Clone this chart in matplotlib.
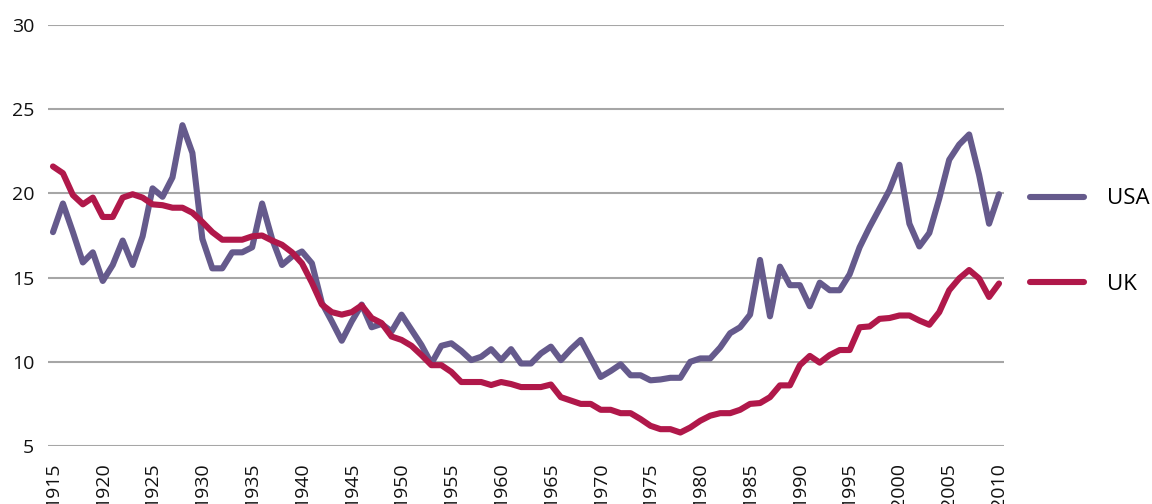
import matplotlib
matplotlib.use("Agg")
import matplotlib.pyplot as plt
from matplotlib.lines import Line2D
import numpy as np

# ---------- data ------------------------------------------------------------

years = list(range(1915, 2011))

usa = [
    17.7, 19.4, 17.7, 15.9, 16.5, 14.8, 15.75, 17.2, 15.75, 17.45,   # 1915-1924
    20.3, 19.8, 20.95, 24.05, 22.4, 17.3, 15.55, 15.55, 16.5, 16.5,  # 1925-1934
    16.8, 19.4, 17.3, 15.75, 16.25, 16.55, 15.85, 13.5, 12.4, 11.25,  # 1935-1944
    12.4, 13.4, 12.05, 12.25, 11.8, 12.8, 11.9, 11.0, 9.9, 10.95,     # 1945-1954
    11.1, 10.65, 10.1, 10.3, 10.75, 10.1, 10.75, 9.9, 9.9, 10.5,      # 1955-1964
    10.9, 10.1, 10.75, 11.3, 10.2, 9.1, 9.45, 9.85, 9.2, 9.2,         # 1965-1974
    8.9, 8.95, 9.05, 9.05, 10.0, 10.2, 10.2, 10.85, 11.7, 12.05,      # 1975-1984
    12.8, 16.05, 12.7, 15.65, 14.55, 14.55, 13.3, 14.7, 14.25, 14.25, # 1985-1994
    15.2, 16.8, 18.0, 19.1, 20.2, 21.7, 18.2, 16.85, 17.65, 19.7,     # 1995-2004
    22.0, 22.9, 23.5, 21.1, 18.2, 19.95,                              # 2005-2010
]

uk = [
    21.6, 21.2, 19.9, 19.35, 19.75, 18.6, 18.6, 19.75, 19.95, 19.75,  # 1915-1924
    19.35, 19.3, 19.15, 19.15, 18.85, 18.3, 17.7, 17.25, 17.25, 17.25, # 1925-1934
    17.45, 17.5, 17.2, 16.95, 16.5, 15.85, 14.7, 13.4, 12.95, 12.8,   # 1935-1944
    12.95, 13.35, 12.6, 12.3, 11.5, 11.3, 10.95, 10.4, 9.8, 9.8,      # 1945-1954
    9.4, 8.8, 8.8, 8.8, 8.62, 8.8, 8.68, 8.5, 8.5, 8.5,               # 1955-1964
    8.65, 7.9, 7.7, 7.5, 7.5, 7.15, 7.15, 6.95, 6.95, 6.6,            # 1965-1974
    6.2, 6.0, 6.0, 5.8, 6.1, 6.5, 6.8, 6.95, 6.95, 7.15,              # 1975-1984
    7.5, 7.55, 7.9, 8.6, 8.6, 9.8, 10.35, 9.95, 10.4, 10.7,           # 1985-1994
    10.7, 12.05, 12.1, 12.55, 12.6, 12.75, 12.75, 12.45, 12.2, 12.95, # 1995-2004
    14.25, 14.95, 15.45, 14.95, 13.85, 14.65,                         # 2005-2010
]

series_names = ["USA", "UK"]
yticks = [5, 10, 15, 20, 25, 30]
xtick_years = list(range(1915, 2011, 5))

# ---------- style -------------------------------------------------------------

plt.rcParams["font.family"] = ["Open Sans", "DejaVu Sans"]
usa_color = "#655a8c"
uk_color = "#b0184a"
grid_color = "#a6a6a6"
fs = 14
legend_fs = 16

fig = plt.figure(figsize=(11.52, 5.04), dpi=100)
ax = fig.add_axes([48 / 1152, 1 - 446 / 504, 956 / 1152, 421 / 504])

line_kw = dict(lw=4.4, solid_capstyle="round", solid_joinstyle="round")
ax.plot(years, usa, color=usa_color, zorder=3, **line_kw)
ax.plot(years, uk, color=uk_color, zorder=3, **line_kw)

ax.set_xlim(1914.5, 2010.5)
ax.set_ylim(5, 30)
ax.set_yticks(yticks)
ax.set_xticks(xtick_years)
ax.set_xticklabels([str(y) for y in xtick_years], rotation=90)

ax.yaxis.grid(True, color=grid_color, lw=1.5)
ax.set_axisbelow(True)
for s in ax.spines.values():
    s.set_visible(False)

ax.tick_params(axis="x", length=0, pad=12, labelsize=fs, colors="#111111")
ax.tick_params(axis="y", length=0, pad=10, labelsize=fs, colors="#111111")

# ---------- legend ------------------------------------------------------------

handles = [
    Line2D([], [], color=usa_color, lw=4.4, solid_capstyle="round"),
    Line2D([], [], color=uk_color, lw=4.4, solid_capstyle="round"),
]
fig.legend(
    handles, series_names,
    loc="center left", bbox_to_anchor=(1030 / 1152, 1 - 241.5 / 504),
    frameon=False, fontsize=legend_fs, handlelength=2.45, handletextpad=1.0,
    labelspacing=2.9, borderpad=0, borderaxespad=0,
)

fig.savefig("out.png", dpi=100)
